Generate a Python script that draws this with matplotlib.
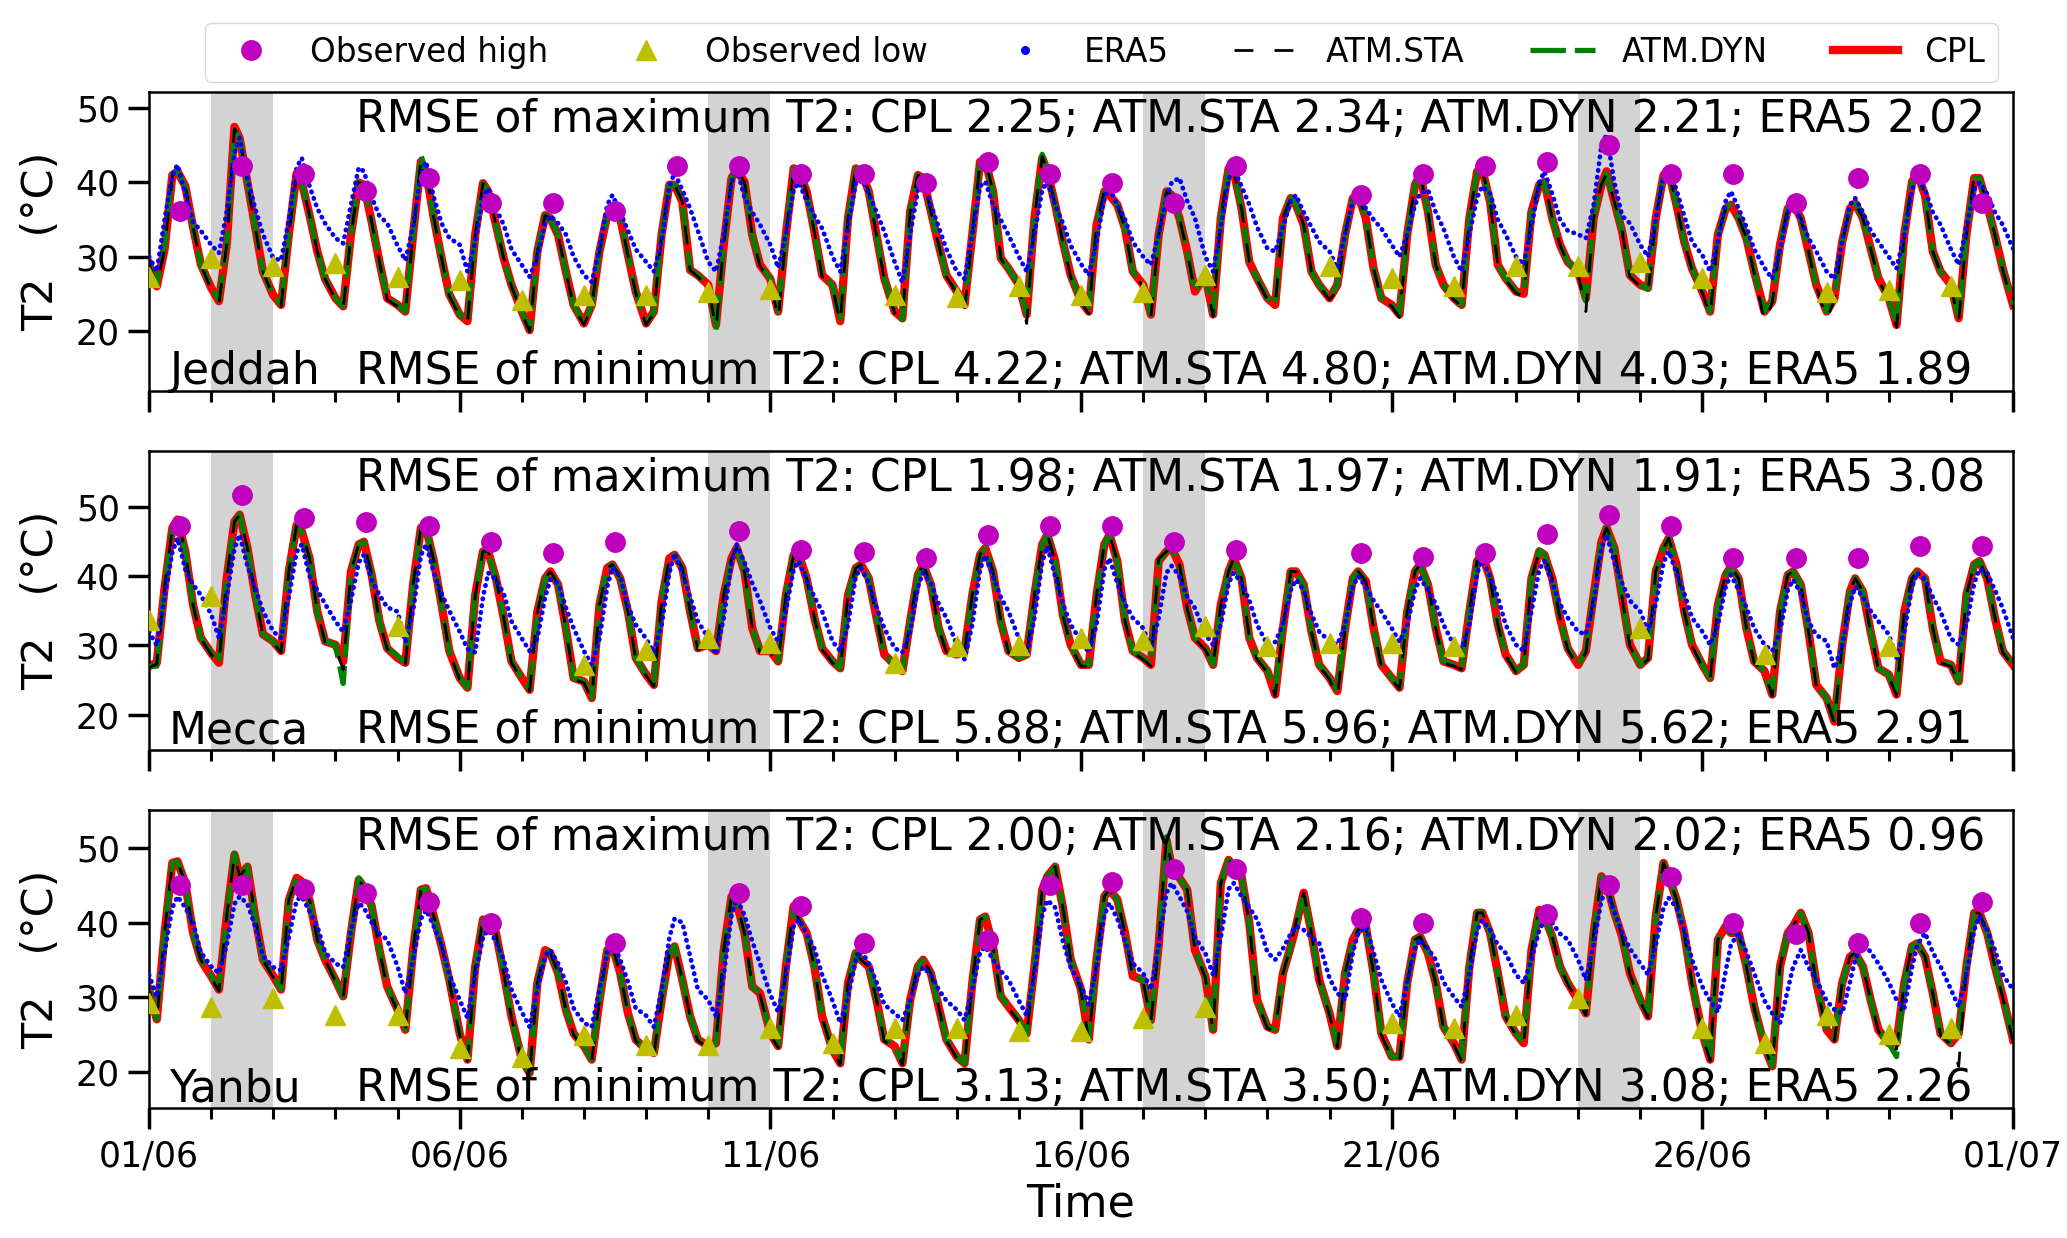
import numpy as np
import matplotlib
matplotlib.use('Agg')
import matplotlib.pyplot as plt
import matplotlib.dates as mdates
from matplotlib.lines import Line2D

# sample hours (UTC)
hours = [0, 3, 6, 9, 11, 14, 17, 20]
shade_days = [1, 9, 16, 23]
nan = np.nan

# ---------------- Jeddah
jeddah_cpl = [
    [29, 26, 31, 41, 41.5, 39.5, 34, 29], [25.8, 24, 31.6, 47.5, 46, 40, 34, 28],
    [24.8, 23.5, 33, 41.2, 40, 35.6, 30.7, 27], [24.4, 23.3, 33, 40, 39.7, 34.7, 29.3, 24.4],
    [23.5, 22.6, 33, 42.8, 41.5, 35.2, 29.8, 24.9], [22.2, 21.3, 33, 39.9, 38.8, 34.3, 29.8, 26.2],
    [22.6, 20.1, 30.7, 35.6, 35.2, 32.9, 28, 23.5], [21, 23.5, 30.7, 35.6, 36, 35.2, 30.2, 25.3],
    [21, 22.6, 33, 39.7, 39.7, 37.4, 28.2, 27.5], [26.2, 20.8, 31.6, 40.6, 41.7, 40.1, 32.9, 28.9],
    [27, 22.6, 33, 41.9, 41.5, 38.8, 33.4, 27.5], [26.2, 21.3, 35.2, 41.9, 41.5, 38.8, 32.9, 27.1],
    [22.6, 21.7, 36.1, 41, 40.6, 36.1, 31.6, 27.5], [25.3, 23.5, 33, 42.8, 43, 38.8, 29.8, 28.4],
    [26.2, 22.2, 35.2, 43.3, 41.5, 37, 32, 27.5], [24, 22.6, 34.3, 38.8, 38.3, 37, 33.8, 28],
    [26.2, 22.2, 33, 38.8, 38.3, 35.2, 30.7, 25.3], [27.5, 22.2, 35.2, 41.9, 41.5, 36.5, 29.3, 27.1],
    [24.4, 23.5, 35.2, 37.9, 37, 34.3, 28, 26.2], [24.4, 26.2, 33, 37.9, 38.3, 35.2, 28.4, 24.4],
    [23.5, 22.2, 33, 39.7, 41, 36.1, 28.9, 26.2], [24.4, 23.5, 35.2, 41.5, 41.7, 37.4, 28.9, 27.1],
    [25.3, 25, 36.1, 39.7, 40.1, 35.2, 31.6, 29.3], [28, 24.4, 35.2, 39.7, 41.5, 37.4, 33.4, 27.5],
    [26.2, 25.8, 35.2, 41, 41.5, 37, 32, 28.4], [25.3, 22.6, 33, 36.5, 37, 35.2, 32.5, 28],
    [22.6, 24, 31.6, 36.5, 37.2, 35.2, 30.7, 26.2], [22.6, 24.4, 32, 36.5, 37.2, 35.2, 31.1, 27.1],
    [24.4, 20.8, 33, 40.1, 41.2, 38.3, 30.7, 28], [26.2, 21.7, 33, 40.6, 40.6, 37, 32.9, 28.4],
]
jeddah_cpl_end = 23.5
jeddah_sta = [
    [29, 26, 31, 41, 41.3, 39.5, 34, 29], [25.5, 23.8, 31.6, 47.3, 46, 40, 34, 28],
    [24.6, 23.3, 33, 41, 40, 35.6, 30.7, 27], [24.2, 23, 33, 40, 39.7, 34.7, 29.3, 24.2],
    [23.3, 22.3, 33, 43, 41.5, 35.2, 29.8, 24.7], [22, 21, 33, 39.9, 38.8, 34.3, 29.8, 26],
    [22.4, 19.9, 30.7, 35.6, 35.2, 32.9, 28, 23.3], [20.8, 23.3, 30.7, 35.6, 36, 35.2, 30.2, 25.1],
    [20.8, 22.4, 33, 39.7, 39.7, 37.4, 28.2, 27.3], [26, 20.3, 31.6, 40.6, 41.7, 40.1, 32.9, 28.7],
    [26.8, 21.5, 33, 41.9, 41.5, 38.8, 33.4, 27.3], [26, 21, 35.2, 41.9, 41.5, 38.8, 32.9, 26.9],
    [22.4, 21.5, 36.1, 41, 40.6, 36.1, 31.6, 27.3], [25.1, 22.8, 33, 42.8, 43, 38.8, 29.8, 28.2],
    [26, 21, 35.2, 43.5, 41.5, 37, 32, 27.3], [23.8, 22.3, 34.3, 38.8, 38.3, 37, 33.8, 27.8],
    [26, 21.8, 33, 38.8, 38.3, 35.2, 30.7, 25.1], [27.3, 22, 35.2, 41.9, 41.5, 36.5, 29.3, 26.9],
    [24.2, 23.3, 35.2, 37.9, 37, 34.3, 28, 26], [24.2, 25.5, 33, 37.9, 38.3, 35.2, 28.4, 24.2],
    [23.3, 21.8, 33, 39.7, 41, 36.1, 28.9, 26], [24.2, 23.3, 35.2, 41.5, 41.7, 37.4, 28.9, 26.9],
    [25.1, 24.6, 36.1, 39.7, 40.1, 35.2, 31.6, 29.1], [27.8, 22.6, 35.2, 39.7, 41.2, 37.4, 33.4, 27.3],
    [26, 25, 35.2, 41, 41.5, 37, 32, 28.2], [25.1, 22, 33, 36.5, 37, 35.2, 32.5, 27.8],
    [21.2, 23.8, 31.6, 36.5, 37.2, 35.2, 30.7, 26], [21.5, 24.2, 32, 36.5, 37.2, 35.2, 31.1, 26.9],
    [24.2, 20.5, 33, 40.1, 41.2, 38.3, 30.7, 27.8], [26, 21.2, 33, 40.8, 40.6, 37, 32.9, 28.2],
]
jeddah_sta_end = 23.3
jeddah_dyn = [
    [29, 26.2, 31.5, 41, 41.5, 39.5, 34, 29], [25.8, 24.2, 31.6, 47, 46, 40, 34, 28],
    [24.8, 23.6, 33, 41.2, 40, 35.6, 30.7, 27], [24.4, 23.3, 33, 40, 39.7, 34.7, 29.3, 24.4],
    [23.5, 22.6, 33, 43.7, 41.5, 35.2, 29.8, 24.9], [22.2, 21.3, 33, 39.9, 38.8, 34.3, 29.8, 26.2],
    [22.6, 20.1, 30.7, 35.6, 35.2, 32.9, 28, 23.5], [21, 23.5, 30.7, 35.6, 36, 35.2, 30.2, 25.3],
    [21, 22.6, 33, 39.7, 39.7, 37.4, 28.2, 27.5], [26.2, 20.1, 31.6, 40.6, 41.7, 40.1, 32.9, 28.9],
    [27, 22.6, 33, 41.9, 41.5, 38.8, 33.4, 27.5], [26.2, 21.3, 35.2, 41.9, 41.5, 38.8, 32.9, 27.1],
    [22.6, 21.5, 36.1, 41, 40.6, 36.1, 31.6, 27.5], [25.3, 23.5, 33, 42.8, 43, 38.8, 29.8, 28.4],
    [26.2, 22.2, 35.2, 43.8, 41.5, 37, 32, 27.5], [24, 22.6, 34.3, 38.8, 38.3, 37, 33.8, 28],
    [26.2, 22.2, 33, 38.8, 38.3, 35.2, 30.7, 25.3], [27.5, 22.2, 35.2, 41.9, 41.5, 36.5, 29.3, 27.1],
    [24.4, 23.5, 35.2, 37.9, 37, 34.3, 28, 26.2], [24.4, 26.2, 33, 37.9, 38.3, 35.2, 28.4, 24.4],
    [23.5, 22.2, 33, 39.7, 41, 36.1, 28.9, 26.2], [24.4, 23.5, 35.2, 41.5, 41.7, 37.4, 28.9, 27.1],
    [25.3, 25, 36.1, 39.7, 40.1, 35.2, 31.6, 29.3], [28, 24, 35.2, 39.7, 41.2, 37.4, 33.4, 27.5],
    [26.2, 25.6, 35.2, 41, 41.5, 37, 32, 28.4], [25.3, 22.6, 33, 36.5, 37, 35.2, 32.5, 28],
    [22.6, 24, 31.6, 36.5, 37.2, 35.2, 30.7, 26.2], [22.6, 24.4, 32, 36.5, 37.2, 35.2, 31.1, 27.1],
    [24.4, 20.8, 33, 40.1, 41.2, 38.3, 30.7, 28], [26.2, 21.7, 33, 40.6, 40.6, 37, 32.9, 28.4],
]
jeddah_dyn_end = 23.5
jeddah_era5 = [
    [30, 28, 35, 41, 42.4, 38.5, 34.7, 33.5], [31.6, 30.5, 36, 44, 46, 40.5, 36.5, 33],
    [29.8, 29.5, 35, 42, 43.3, 39.5, 36.5, 34.5], [32.5, 31.8, 37, 42, 41.5, 38, 35.5, 34.5],
    [31.5, 29.5, 34, 41, 42.8, 38, 34.5, 32.5], [31.6, 28, 32, 38, 39.2, 36.5, 34.3, 31],
    [28.9, 27.3, 30, 34.5, 35.5, 34.5, 33, 30], [27.5, 26.6, 31, 37, 38.3, 36, 33.5, 31],
    [29.3, 28, 32, 39.5, 41.3, 39, 36.5, 33.5], [29.3, 28, 33, 40, 41.9, 38, 36, 34.3],
    [31.6, 28.5, 33, 39, 40, 37.5, 35.5, 33.8], [30, 28, 34, 40, 41, 38.5, 36, 33.4],
    [29.3, 26.5, 33, 39, 40.1, 37, 34, 31], [28, 27, 33, 39.5, 40.1, 37, 35, 32.9],
    [30, 28, 33, 39, 40.1, 37, 34.5, 31.5], [29, 27.5, 32, 38, 39.2, 37, 35, 32],
    [30, 28.9, 33, 38, 40, 40.6, 37.5, 35.2], [30, 28, 34, 40.5, 41.9, 39.5, 37, 34],
    [31.1, 30.7, 34, 37.5, 38.3, 36, 34, 32], [30.7, 28.4, 33, 37.5, 38.8, 36.5, 35, 33.8],
    [31.6, 30, 33, 37, 38.5, 39, 36, 33.8], [30, 28, 33, 38, 39.5, 38.5, 35, 33],
    [30, 28.9, 34, 40, 41.5, 38.5, 35, 33.5], [33, 32.5, 37, 45, 46.5, 40, 35.5, 34.5],
    [31.6, 30, 35, 41, 42.4, 39, 35.5, 32], [30.2, 28, 32, 37.5, 38.8, 36.5, 34, 31],
    [28.5, 27, 31, 36, 37, 35, 32.5, 30.7], [28, 27, 32, 37, 37.9, 36, 33.5, 32],
    [30, 28.4, 33, 39, 40.6, 39, 36, 34.3], [31, 28.9, 34, 39, 40, 38.5, 36, 34.3],
]
jeddah_era5_end = 31.1
jeddah_obs_high = [36.1, 42.2, 41.1, 38.8, 40.6, 37.2, 37.2, 36.1, 42.2, 42.2,
                   41.1, 41.1, 39.9, 42.7, 41.1, 39.9, 37.2, 42.2, nan, 38.3,
                   41.1, 42.2, 42.8, 45.1, 41.1, 41.1, 37.2, 40.6, 41.1, 37.2]
jeddah_obs_low = [27.3, 29.8, 28.7, 29.1, 27.3, 26.9, 24.2, 24.9, 24.9, 25.3,
                  25.7, nan, 24.9, 24.6, 26.0, 24.9, 25.3, 27.5, nan, 28.7,
                  27.1, 26.0, 28.7, 28.7, 29.3, 27.1, nan, 25.3, 25.5, 26.0]
jeddah_rmse_max = [2.25, 2.34, 2.21, 2.02]
jeddah_rmse_min = [4.22, 4.80, 4.03, 1.89]

# ---------------- Mecca
mecca_cpl = [
    [27, 27.5, 38.3, 47, 48.2, 43.6, 35.9, 31.1], [28.9, 27.5, 39.7, 47.9, 48.9, 44.1, 37.3, 31.6],
    [30.6, 29.2, 40.7, 47.4, 46.5, 42.6, 34.9, 30.6], [30.1, 27.7, 40.7, 44.6, 45, 40.2, 33.5, 29.6],
    [28.2, 27.5, 38.8, 47, 47, 42.2, 35.9, 29.2], [25.3, 23.9, 37.3, 43.6, 43.6, 39.7, 34, 27.7],
    [25.3, 23.6, 34.9, 39.7, 40.7, 38.8, 32.5, 25.3], [24.8, 22.4, 35.9, 41.2, 41.7, 39.7, 34.9, 28.2],
    [25.8, 24.3, 36.4, 42.6, 43.1, 41.2, 34.9, 29.6], [30.1, 29.2, 37.3, 42.6, 44.1, 40.7, 32.5, 29.2],
    [29.2, 27.7, 37.3, 43.1, 43.1, 39.7, 34, 29.6], [27.7, 26.7, 37.3, 41.2, 41.7, 39.7, 34, 28.7],
    [27.2, 26.3, 33.5, 40.2, 41.7, 38.8, 32.5, 29.2], [28.7, 29.2, 37.3, 43.1, 44.1, 40.7, 33.5, 29.2],
    [28.2, 28.7, 37.3, 44.6, 46, 42.2, 34.4, 30.1], [27.2, 27.2, 37.3, 44.6, 46, 42.2, 33.5, 29.2],
    [28.2, 27.2, 42.2, 43.6, 44.1, 41.7, 35.4, 31.1], [29.6, 27.2, 35.9, 40.7, 42.6, 39.7, 31.1, 28.2],
    [26.3, 22.9, 32.5, 40.7, 40.7, 38.8, 32, 27.2], [25.3, 23.4, 32.5, 39.7, 40.7, 39.3, 32.5, 27.2],
    [25.3, 23.9, 34.9, 40.7, 41.7, 38.8, 32.5, 27.7], [27.2, 26.7, 34.9, 42.2, 43.1, 39.7, 33, 28.7],
    [26.3, 27.2, 39.7, 43.6, 43.1, 39.7, 34, 29.6], [27.2, 29.2, 37.3, 45, 47, 44.1, 36.9, 30.1],
    [27.2, 28.2, 40.7, 44.1, 45.5, 41.7, 34.9, 30.1], [27.2, 25.3, 35.9, 40.2, 41.4, 39.7, 32.5, 27.7],
    [26.3, 22.9, 34.9, 40.2, 40.7, 38.8, 32, 24.3], [22.4, 19, 30.1, 37.8, 39.7, 37.8, 32, 26.7],
    [25.8, 22.9, 34.9, 39.7, 40.7, 39.7, 32.5, 27.7], [27.2, 24.8, 37.3, 41.7, 42.2, 39.7, 34, 29.2],
]
mecca_cpl_end = 27.2
mecca_sta = [
    [26.8, 27.3, 38.3, 47, 48.2, 43.6, 35.9, 31], [28.7, 27.3, 39.7, 47.9, 48.9, 44.1, 37.3, 31.5],
    [30.4, 29, 40.7, 47.4, 46.5, 42.6, 34.9, 30.5], [29.9, 26.5, 40.7, 44.6, 45, 40.2, 33.5, 29.5],
    [28, 27.3, 38.8, 47, 47, 42.2, 35.9, 29], [25.1, 23.7, 37.3, 43.6, 43.6, 39.7, 34, 27.5],
    [25.1, 23.4, 34.9, 39.7, 40.7, 38.8, 32.5, 25.1], [24.6, 22.2, 35.9, 41.2, 41.7, 39.7, 34.9, 28],
    [25.6, 24.1, 36.4, 42.6, 43.1, 41.2, 34.9, 29.4], [29.9, 29, 37.3, 42.6, 44.1, 40.7, 32.5, 29],
    [29, 27.5, 37.3, 43.1, 43.1, 39.7, 34, 29.4], [27.5, 26.5, 37.3, 41.2, 41.7, 39.7, 34, 28.5],
    [27, 26.1, 33.5, 40.2, 41.7, 38.8, 32.5, 29], [28.5, 29, 37.3, 43.1, 44.1, 40.7, 33.5, 29],
    [28, 28.5, 37.3, 44.6, 46, 42.2, 34.4, 29.9], [27, 27, 37.3, 44.6, 46, 42.2, 33.5, 29],
    [28, 27, 42.5, 43.6, 44.1, 41.7, 35.4, 30.9], [29.4, 27, 35.9, 40.7, 42.6, 39.7, 31.1, 28],
    [26.1, 22.7, 32.5, 40.7, 40.7, 38.8, 32, 27], [25.1, 22.5, 32.5, 39.7, 40.7, 39.3, 32.5, 27],
    [25.1, 23.7, 34.9, 40.7, 41.7, 38.8, 32.5, 27.5], [27, 26.5, 34.9, 42.2, 43.1, 39.7, 33, 28.5],
    [26.1, 26.8, 39.7, 43.6, 43.1, 39.7, 34, 29.4], [27, 29, 37.3, 45, 47, 44.1, 36.9, 29.9],
    [27, 28, 40.7, 44.1, 45.5, 41.7, 34.9, 29.9], [27, 25.1, 35.9, 40.2, 41.4, 39.7, 32.5, 27.5],
    [26.1, 22.7, 34.9, 40.2, 40.7, 38.8, 32, 24.1], [22.2, 18.8, 30.1, 37.8, 39.7, 37.8, 32, 26.5],
    [25.6, 22.7, 34.9, 39.7, 40.7, 39.7, 32.5, 27.5], [27, 24.6, 37.3, 41.7, 42.2, 39.7, 34, 29],
]
mecca_sta_end = 27
mecca_dyn = [
    [27, 27, 38.3, 47, 48.2, 43.6, 35.9, 31.1], [28.9, 27.5, 39.7, 47.9, 48.9, 44.1, 37.3, 31.6],
    [30.6, 29.2, 40.7, 47.4, 46.5, 42.6, 34.9, 30.6], [30.1, 24.5, 40.7, 44.6, 45, 40.2, 33.5, 29.6],
    [28.5, 27.5, 38.8, 47, 47, 42.2, 35.9, 29.2], [25.3, 23.9, 37.3, 43.6, 43.6, 39.7, 34, 27.7],
    [25.3, 23.6, 34.9, 39.7, 40.7, 38.8, 32.5, 25.3], [24.8, 22.4, 35.9, 41.2, 41.7, 39.7, 34.9, 28.2],
    [25.8, 24.3, 36.4, 42.6, 43.1, 41.2, 34.9, 29.6], [30.1, 29.2, 37.3, 42.6, 44.1, 40.7, 32.5, 29.2],
    [29.2, 27.7, 37.3, 43.1, 43.1, 39.7, 34, 29.6], [27.7, 26.7, 37.3, 41.2, 41.7, 39.7, 34, 28.7],
    [27.2, 26.3, 33.5, 40.2, 41.7, 38.8, 32.5, 29.2], [28.7, 29.2, 37.3, 43.1, 44.1, 40.7, 33.5, 29.2],
    [28.2, 28.7, 37.3, 44.6, 46, 42.2, 34.4, 30.1], [27.2, 27.2, 37.3, 44.6, 46, 42.2, 33.5, 29.2],
    [28.2, 27.2, 42.2, 43.6, 44.1, 41.7, 35.4, 31.1], [29.6, 27.2, 35.9, 40.7, 42.6, 39.7, 31.1, 28.2],
    [26.3, 23.5, 32.5, 40.7, 40.7, 38.8, 32, 27.2], [25.3, 23.4, 32.5, 39.7, 40.7, 39.3, 32.5, 27.2],
    [25.3, 23.9, 34.9, 40.7, 41.7, 38.8, 32.5, 27.7], [27.2, 26.7, 34.9, 42.2, 43.1, 39.7, 33, 28.7],
    [26.3, 27.2, 39.7, 43.8, 43.1, 39.7, 34, 29.6], [27.2, 29.2, 37.3, 45, 47, 44.1, 36.9, 30.1],
    [27.2, 28.2, 40.7, 44.1, 45.5, 41.7, 34.9, 30.1], [27.2, 25.3, 35.9, 40.2, 41.4, 39.7, 32.5, 27.7],
    [26.3, 22.9, 34.9, 40.2, 40.7, 38.8, 32, 24.3], [22.4, 19, 30.1, 37.8, 39.7, 37.8, 32, 26.7],
    [25.8, 22.9, 34.9, 39.7, 40.7, 39.7, 32.5, 27.7], [27.2, 24.8, 37.3, 41.7, 42.2, 39.7, 34, 29.2],
]
mecca_dyn_end = 27.2
mecca_era5 = [
    [32, 30, 37, 43.5, 45.5, 41, 38.8, 37.3], [34.5, 31.1, 37, 44, 46, 41.5, 38.3, 35],
    [32, 31.1, 37, 43.5, 44.6, 40, 38, 36], [33.5, 32, 36.5, 42, 43.1, 39.5, 37.3, 35.5],
    [34.9, 30.5, 35, 43, 44.6, 40.5, 37.5, 35], [32, 29.5, 29, 37, 40.5, 39.5, 37.5, 33.5],
    [31, 29.2, 31, 37, 39.5, 39, 35.5, 32.5], [29.2, 27.2, 31, 38.5, 41.3, 40, 35.8, 33],
    [31, 29, 33, 40.5, 43.3, 40.5, 37, 33.5], [31.1, 28.7, 34, 42, 44.6, 42, 39, 36.4],
    [32.5, 30.5, 35, 41, 42.2, 39.5, 37, 34.9], [30.6, 29.2, 33, 40, 41.2, 39, 35.5, 32.5],
    [29.6, 29, 32, 38.5, 40.5, 39, 36, 34], [30.1, 28, 33, 41, 43, 40, 37, 34.9],
    [31, 28.5, 34, 42, 44.3, 40, 36, 33], [30.6, 29, 33, 41, 42.6, 39, 36, 34],
    [32.5, 29.5, 34, 40.5, 41.5, 40, 37, 35.4], [31.6, 30.1, 33, 39, 40.5, 39, 36.5, 33],
    [30.1, 30.5, 33, 38, 39.5, 38, 34.5, 32], [30.6, 30.1, 33, 38.5, 40, 38.5, 36.5, 34.9],
    [32.5, 30.5, 33, 38, 39.7, 38, 36, 33], [30.1, 29.5, 33, 40.5, 42.3, 40, 37, 33],
    [30.1, 29.2, 35, 41, 42.2, 39, 36, 34], [32, 31.6, 36, 44, 46, 42, 39, 36.5],
    [34.9, 32, 36, 42, 43.6, 40.5, 37.5, 34], [32, 30.1, 33, 38.5, 40.2, 38, 35.5, 32.5],
    [30.1, 29.2, 32, 38, 39.5, 37.5, 33.5, 31.5], [30.6, 26.7, 30, 36, 38.5, 37, 35, 33.5],
    [31.6, 28.2, 32, 38.5, 40.5, 39.5, 37, 34.9], [31, 30.1, 33, 39, 41, 40.5, 38, 35.4],
]
mecca_era5_end = 31.1
mecca_obs_high = [47.2, 51.8, 48.4, 47.8, 47.2, 45.0, 43.4, 45.0, nan, 46.6,
                  43.8, 43.5, 42.6, 46.0, 47.2, 47.2, 44.9, 43.8, nan, 43.3,
                  42.8, 43.3, 46.1, 48.9, 47.2, 42.7, 42.7, 42.7, 44.4, 44.4]
mecca_obs_low = [33.7, 37.1, nan, nan, 32.8, nan, nan, 27.2, 29.4, 31.1,
                 30.4, nan, 27.5, 29.9, 30.1, 31.1, 30.8, 32.8, 29.9, 30.4,
                 30.4, 29.9, nan, nan, 32.5, nan, 28.7, nan, 29.9, nan]
mecca_rmse_max = [1.98, 1.97, 1.91, 3.08]
mecca_rmse_min = [5.88, 5.96, 5.62, 2.91]

# ---------------- Yanbu
yanbu_cpl = [
    [31, 27, 38.6, 48, 48.2, 45.3, 38.6, 35], [32.8, 31, 40.8, 49.1, 46.2, 47.5, 40.8, 35],
    [32.8, 31, 43, 46, 45.5, 43, 37.7, 35], [32.3, 30.1, 38.6, 45.7, 44.8, 42.2, 36.3, 31.4],
    [28.3, 25.6, 36.3, 44.4, 44.6, 40.8, 36.8, 32.3], [25.1, 21.6, 34.1, 40.4, 39.5, 38.6, 33.2, 27.4],
    [21.6, 19.8, 31.9, 36.3, 35.9, 33.2, 28.3, 25.1], [23.4, 21.6, 29.6, 36.3, 36.8, 33.2, 27.8, 24.3],
    [22.9, 22.5, 29.6, 35.9, 36.8, 32.3, 27.4, 24.3], [23.4, 23.8, 36.3, 43.5, 42.6, 38.6, 31.4, 30.5],
    [25.1, 23.4, 34.1, 42.2, 40.4, 38.6, 34.1, 27.4], [22.9, 21.1, 31.9, 35.9, 35, 34.1, 29.6, 24.3],
    [23.4, 21.1, 29.6, 34.1, 35, 33.2, 28.7, 24.3], [22, 21.1, 31.9, 40.4, 40.8, 36.8, 30.1, 28.7],
    [26.9, 25.1, 34.1, 44.4, 46.2, 47.5, 42, 35], [31, 24.3, 35, 43.5, 44.4, 43.1, 38.6, 32.8],
    [32.3, 26.9, 37, 51.1, 47.5, 46, 44.4, 36.3], [32.8, 25.6, 45.3, 48.4, 47.5, 46.2, 39.9, 29.6],
    [26, 25.6, 33.2, 36.8, 39.5, 44, 38.6, 32.3], [27.8, 23.4, 33.2, 37.7, 39, 39.5, 33.2, 25.1],
    [22, 22, 31.9, 37.7, 38.1, 35.9, 31.9, 26], [23.8, 21.6, 34.1, 41.3, 41.3, 38.6, 33.2, 27.4],
    [25.1, 23.8, 36.3, 41.7, 40.8, 38.1, 34.1, 31.9], [29.6, 27.8, 38.6, 46.2, 45.3, 41.3, 38.1, 33.2],
    [29.6, 27.4, 40.8, 48, 46.2, 43.1, 38.6, 31.9], [25.1, 21.6, 37.7, 39.5, 38.6, 38.6, 34.1, 28.7],
    [23.4, 20.7, 34.1, 38.6, 39.5, 41.3, 38.6, 31.9], [25.6, 24.3, 31.9, 35.4, 35.9, 34.1, 29.6, 25.6],
    [23.8, 23.8, 31.9, 36.8, 37.2, 35.4, 30.5, 25.1], [23.8, 25.1, 34.1, 41.3, 41.3, 38.6, 34.1, 30.1],
]
yanbu_cpl_end = 24.3
yanbu_sta = [
    [31, 27, 38.6, 48, 48.2, 45.3, 38.6, 35], [32.6, 30.8, 40.8, 49.1, 46.2, 47.5, 40.8, 35],
    [32.6, 30.8, 43, 46, 45.5, 43, 37.7, 35], [32.1, 29.9, 38.6, 45.7, 44.8, 42.2, 36.3, 31.2],
    [28.1, 25.4, 36.3, 44.4, 44.6, 40.8, 36.8, 32.1], [24.9, 21.4, 34.1, 40.4, 39.5, 38.6, 33.2, 27.2],
    [21.4, 19.6, 31.9, 36.3, 35.9, 33.2, 28.3, 24.9], [23.2, 21.4, 29.6, 36.3, 36.8, 33.2, 27.8, 24.1],
    [22.7, 22.3, 29.6, 35.9, 36.8, 32.3, 27.4, 24.1], [23.2, 23.6, 36.3, 43.5, 42.6, 38.6, 31.4, 30.3],
    [24.9, 23.2, 34.1, 42.2, 40.4, 38.6, 34.1, 27.2], [22.7, 20.9, 31.9, 35.9, 35, 34.1, 29.6, 24.1],
    [23.2, 20.9, 29.6, 34.1, 35, 33.2, 28.7, 24.1], [21.8, 20.9, 31.9, 40.4, 40.8, 36.8, 30.1, 28.5],
    [26.7, 24.9, 34.1, 44.4, 46.2, 47.5, 42, 35], [30.8, 24.1, 35, 43.5, 44.4, 43.1, 38.6, 32.6],
    [32.1, 26.7, 37, 51.5, 47.5, 46, 44.4, 36.3], [32.6, 25.4, 45.3, 48.4, 47.5, 46.2, 39.9, 29.4],
    [25.8, 25.4, 33.2, 36.8, 40, 44, 38.6, 32.1], [27.6, 23.2, 33.2, 37.7, 39, 39.5, 33.2, 24.9],
    [21.8, 21.2, 31.9, 37.7, 38.1, 35.9, 31.9, 25.8], [23.6, 21.4, 34.1, 41.3, 41.3, 38.6, 33.2, 27.2],
    [24.9, 23.6, 36.3, 41.7, 40.8, 38.1, 34.1, 31.7], [29.4, 27.6, 38.6, 46.2, 45.3, 41.3, 38.1, 33],
    [29.4, 27.2, 40.8, 48, 46.2, 43.1, 38.6, 31.7], [24.9, 21.4, 37.7, 39.5, 38.6, 38.6, 34.1, 28.5],
    [23.2, 20.5, 34.1, 38.6, 39.5, 41.3, 38.6, 31.7], [25.4, 24.1, 31.9, 35.4, 35.9, 34.1, 29.6, 25.4],
    [23.6, 23, 31.9, 36.8, 37.2, 35.4, 30.5, 24.9], [23.6, 20.7, 34.1, 41.3, 41.3, 38.6, 34.1, 29.9],
]
yanbu_sta_end = 24.1
yanbu_dyn = [
    [31, 27, 38.6, 48, 48.2, 45.3, 38.6, 35], [32.8, 31, 40.8, 49.3, 46.2, 47.5, 40.8, 35],
    [32.8, 31, 43, 46, 45.5, 43, 37.7, 35], [32.3, 30.1, 38.6, 46, 44.8, 42.2, 36.3, 31.4],
    [28.3, 25.6, 36.3, 44.4, 44.6, 40.8, 36.8, 32.3], [25.1, 21.6, 34.1, 40.4, 39.5, 38.6, 33.2, 27.4],
    [21.6, 19.8, 31.9, 36.3, 35.9, 33.2, 28.3, 25.1], [23.4, 21.6, 29.6, 36.3, 36.8, 33.2, 27.8, 24.3],
    [22.9, 22.5, 29.6, 35.9, 36.8, 32.3, 27.4, 24.3], [23.4, 23.8, 36.3, 43.5, 42.6, 38.6, 31.4, 30.5],
    [25.1, 23.4, 34.1, 42.2, 40.4, 38.6, 34.1, 27.4], [22.9, 21.1, 31.9, 35.9, 35, 34.1, 29.6, 24.3],
    [23.4, 21.1, 29.6, 34.1, 35, 33.2, 28.7, 24.3], [22, 21.1, 31.9, 40.4, 40.8, 36.8, 30.1, 28.7],
    [26.9, 25.1, 34.1, 44.4, 46.2, 47.5, 42, 35], [31, 24.3, 35, 43.5, 44.4, 43.1, 38.6, 32.8],
    [32.3, 26.9, 37, 51.5, 47.5, 46, 44.4, 36.3], [32.8, 25.6, 45.3, 48.4, 47.5, 46.2, 39.9, 29.6],
    [26, 25.6, 33.2, 36.8, 39.5, 44, 38.6, 32.3], [27.8, 23.4, 33.2, 37.7, 39, 39.5, 33.2, 25.1],
    [22, 22, 31.9, 37.7, 38.1, 35.9, 31.9, 26], [23.8, 21.6, 34.1, 41.3, 41.3, 38.6, 33.2, 27.4],
    [25.1, 23.8, 36.3, 41.7, 40.8, 38.1, 34.1, 31.9], [29.6, 27.8, 38.6, 46.2, 45.3, 41.3, 38.1, 33.2],
    [29.6, 27.4, 40.8, 48, 46.2, 43.1, 38.6, 31.9], [25.1, 21.6, 37.7, 39.5, 38.6, 38.6, 34.1, 28.7],
    [23.4, 20.7, 34.1, 38.6, 39.5, 41.3, 38.6, 31.9], [25.6, 24.3, 31.9, 35.4, 35.9, 34.1, 29.6, 25.6],
    [23.8, 22, 31.9, 36.8, 37.2, 35.4, 30.5, 25.1], [23.8, 25.1, 34.1, 41.3, 41.3, 38.6, 34.1, 30.1],
]
yanbu_dyn_end = 24.3
yanbu_era5 = [
    [33, 30, 36, 42, 43.5, 42, 40, 36], [34.1, 33.2, 37, 42.5, 43.5, 42.5, 39.5, 35.5],
    [34, 33.6, 38, 43, 43.5, 41.5, 39.5, 36], [34.5, 34, 39, 42.6, 42, 40, 38.5, 37.7],
    [34.1, 30.5, 35, 40.5, 41.7, 39.5, 37, 33], [29.6, 27.2, 33, 38, 39, 37.5, 35, 31],
    [28, 26, 31, 35.5, 36.3, 34.5, 32, 28.5], [26.5, 26, 31, 36, 37.5, 35, 32, 28.5],
    [27.5, 26, 31, 38, 40.5, 40, 35.5, 31], [29.6, 27.4, 33, 41, 43.2, 41, 37.5, 34.5],
    [30.3, 28, 33, 39.5, 40.4, 38.5, 36.5, 33], [29.5, 26.5, 30, 35, 36.3, 34.5, 32, 29],
    [27.8, 26.9, 29.5, 33, 34, 33, 31, 29.5], [28.3, 26.9, 31, 36, 36.8, 35, 33.5, 32.3],
    [29.5, 27.5, 33, 41, 43, 42, 37.5, 34], [31.5, 29, 34, 41, 42.6, 40.5, 37.5, 34.5],
    [33.2, 31, 37, 44, 45.3, 43.5, 41.5, 38], [35.9, 33, 38, 44.5, 45.3, 43.5, 42, 40.4],
    [36, 35, 36.5, 38.5, 39.5, 39, 38, 37.2], [32.5, 30.5, 29.6, 36, 38.5, 39.5, 36, 32.3],
    [29.2, 27.4, 32, 36.5, 37.7, 36.5, 35, 32], [30, 28.7, 33, 39, 40.3, 39, 37, 35.9],
    [33, 31.9, 35, 39, 40.2, 40, 38.5, 37.7], [35, 32.3, 37, 43, 44.4, 41.5, 38.6, 36.5],
    [34.5, 33, 37, 42, 43.3, 42, 39, 35], [31.4, 29.5, 28, 33.5, 37, 38.6, 36, 33.2],
    [29.5, 27.8, 26.5, 31, 34, 36.3, 34, 32.3], [29.5, 28.3, 27.8, 32, 35, 37.5, 36, 34.5],
    [32, 29.6, 28.5, 34, 37, 38.6, 36, 34.1], [31, 28.7, 33, 39, 40.8, 39, 36.3, 33],
]
yanbu_era5_end = 31
yanbu_obs_high = [45.1, 45.1, 44.5, 43.9, 42.8, 40.0, nan, 37.2, nan, 44.0,
                  42.2, 37.2, nan, 37.7, 45.1, 45.5, 47.2, 47.2, nan, 40.6,
                  40.0, nan, 41.1, 45.1, 46.1, 40.0, 38.4, 37.2, 40.0, 42.8]
yanbu_obs_low = [29.2, 28.7, 29.8, 27.6, 27.6, 23.1, 22.0, 24.9, 23.6, 23.6,
                 25.8, 23.8, 25.8, 25.8, 25.4, 25.4, 27.2, 28.7, nan, nan,
                 26.5, 25.8, 27.6, 29.8, nan, 25.8, 23.8, 27.6, 25.1, 25.8]
yanbu_rmse_max = [2.00, 2.16, 2.02, 0.96]
yanbu_rmse_min = [3.13, 3.50, 3.08, 2.26]

# ---------------- time axes
t0 = np.datetime64('2019-06-01T00:00')
hr = np.timedelta64(1, 'h')
model_t = np.array([t0 + (24 * d + h) * hr for d in range(30) for h in hours] + [t0 + 720 * hr])
high_t = np.array([t0 + (24 * d + 12) * hr for d in range(30)])
low_t = np.array([t0 + 24 * d * hr for d in range(30)])


def flat(rows, end):
    return np.append(np.ravel(rows), end)


def rmse_line(kind, v):
    return ('RMSE of %s T2: CPL %.2f; ATM.STA %.2f; ATM.DYN %.2f; ERA5 %.2f'
            % (kind, v[0], v[1], v[2], v[3]))


panels = [
    ('Jeddah', jeddah_cpl, jeddah_cpl_end, jeddah_sta, jeddah_sta_end, jeddah_dyn, jeddah_dyn_end,
     jeddah_era5, jeddah_era5_end, jeddah_obs_high, jeddah_obs_low, jeddah_rmse_max, jeddah_rmse_min,
     (11.9, 52.2), [0.0721, 0.6842, 0.9018, 0.2415]),
    ('Mecca', mecca_cpl, mecca_cpl_end, mecca_sta, mecca_sta_end, mecca_dyn, mecca_dyn_end,
     mecca_era5, mecca_era5_end, mecca_obs_high, mecca_obs_low, mecca_rmse_max, mecca_rmse_min,
     (14.9, 58.1), [0.0721, 0.3942, 0.9018, 0.2415]),
    ('Yanbu', yanbu_cpl, yanbu_cpl_end, yanbu_sta, yanbu_sta_end, yanbu_dyn, yanbu_dyn_end,
     yanbu_era5, yanbu_era5_end, yanbu_obs_high, yanbu_obs_low, yanbu_rmse_max, yanbu_rmse_min,
     (15.1, 55.1), [0.0721, 0.1050, 0.9018, 0.2407]),
]

sta_dash = (0, (6.8, 7.6))
dyn_dash = (0, (6.7, 1.7))

fig = plt.figure(figsize=(20.67, 12.38), dpi=100)
axes = []
for i, p in enumerate(panels):
    (name, cpl, cpl_end, sta, sta_end, dyn, dyn_end, era5, era5_end,
     obs_high, obs_low, rmse_max, rmse_min, ylim, pos) = p
    ax = fig.add_axes(pos, sharex=axes[0] if axes else None)
    axes.append(ax)

    for d in shade_days:
        ax.axvspan(t0 + 24 * d * hr, t0 + 24 * (d + 1) * hr, color='lightgray', lw=0, zorder=0)

    ax.plot(model_t, flat(cpl, cpl_end), color='r', lw=6, zorder=2)
    ax.plot(model_t, flat(dyn, dyn_end), color='g', lw=3.8, ls=dyn_dash, zorder=3)
    ax.plot(model_t, flat(sta, sta_end), color='k', lw=2, ls=sta_dash, zorder=4)
    ax.plot(model_t, flat(era5, era5_end), color='b', lw=3.4, ls=(0, (0.1, 1.35)),
            dash_capstyle='round', zorder=5)
    ax.plot(low_t, obs_low, 'y^', ms=14, zorder=6)
    ax.plot(high_t, obs_high, 'mo', ms=14, zorder=7)

    ax.text(0.111, 0.867, rmse_line('maximum', rmse_max), transform=ax.transAxes,
            fontsize=31.7, va='baseline', ha='left', zorder=8)
    ax.text(0.111, 0.022, rmse_line('minimum', rmse_min), transform=ax.transAxes,
            fontsize=31.7, va='baseline', ha='left', zorder=8)
    ax.text(0.0106, 0.022, name, transform=ax.transAxes,
            fontsize=31.7, va='baseline', ha='left', zorder=8)

    ax.set_ylim(*ylim)
    ax.set_yticks([20, 30, 40, 50])
    ax.set_ylabel('T2   (°C)', fontsize=31, labelpad=10)
    for s in ax.spines.values():
        s.set_linewidth(1.8)
    ax.tick_params(axis='both', which='major', labelsize=25, length=15, width=2.5, pad=6)
    ax.tick_params(axis='x', which='minor', length=8, width=2.2)
    if i < 2:
        ax.tick_params(axis='x', labelbottom=False)

ax = axes[-1]
ax.set_xlim(t0, t0 + 720 * hr)
ax.xaxis.set_major_locator(mdates.DayLocator(bymonthday=[1, 6, 11, 16, 21, 26]))
ax.xaxis.set_minor_locator(mdates.DayLocator())
ax.xaxis.set_major_formatter(mdates.DateFormatter('%d/%m'))
ax.tick_params(axis='x', which='major', pad=8)
ax.set_xlabel('Time', fontsize=32, labelpad=6)

handles = [
    Line2D([], [], color='m', marker='o', ls='none', ms=14),
    Line2D([], [], color='y', marker='^', ls='none', ms=14),
    Line2D([], [], color='b', marker='.', ls='none', ms=11),
    Line2D([], [], color='k', lw=2, ls=sta_dash),
    Line2D([], [], color='g', lw=3.8, ls=dyn_dash),
    Line2D([], [], color='r', lw=6),
]
labels = ['Observed high', 'Observed low', 'ERA5', 'ATM.STA', 'ATM.DYN', 'CPL']
fig.legend(handles, labels, loc='upper center', bbox_to_anchor=(0.533, 0.995), ncol=6,
           fontsize=23.5, columnspacing=2.0, handletextpad=0.8, frameon=True)

fig.savefig('out.png', dpi=100)
